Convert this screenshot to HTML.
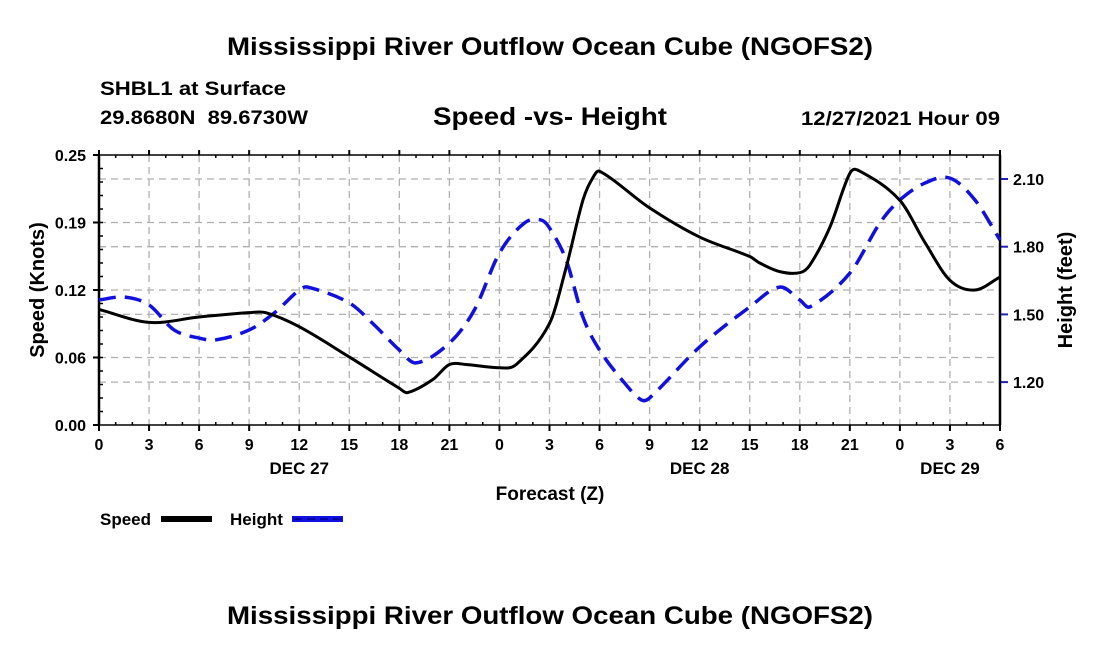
<!DOCTYPE html>
<html><head><meta charset="utf-8"><style>
html,body{margin:0;padding:0;background:#fff;}
svg{display:block;font-family:"Liberation Sans",Arial,sans-serif;font-weight:bold;}
</style></head><body>
<svg id="chart" width="1100" height="650" viewBox="0 0 1100 650" xmlns="http://www.w3.org/2000/svg">
<text x="550" y="55" text-anchor="middle" font-size="25" textLength="646" lengthAdjust="spacingAndGlyphs">Mississippi River Outflow Ocean Cube (NGOFS2)</text>
<text x="100" y="95" font-size="19" textLength="186" lengthAdjust="spacingAndGlyphs">SHBL1 at Surface</text>
<text x="100" y="124" font-size="19" textLength="208" lengthAdjust="spacingAndGlyphs" xml:space="preserve">29.8680N  89.6730W</text>
<text x="550" y="125" text-anchor="middle" font-size="25" textLength="234" lengthAdjust="spacingAndGlyphs">Speed -vs- Height</text>
<text x="1000" y="125" text-anchor="end" font-size="19" textLength="199" lengthAdjust="spacingAndGlyphs">12/27/2021 Hour 09</text>
<g id="grid"></g>
<g id="axes"></g>
<g id="series"></g>
<text transform="translate(44,290) rotate(-90)" text-anchor="middle" font-size="20">Speed (Knots)</text>
<text transform="translate(1072,290) rotate(-90)" text-anchor="middle" font-size="20">Height (feet)</text>
<text x="550" y="500" text-anchor="middle" font-size="19">Forecast (Z)</text>
<g>
<text x="100" y="525" font-size="17">Speed</text>
<rect x="161" y="516" width="51" height="6" fill="#000"/>
<text x="230" y="525" font-size="17">Height</text>
<rect x="292" y="516" width="51" height="6" fill="#1010e0"/>
<line x1="294" y1="519" x2="342" y2="519" stroke="#0000a0" stroke-width="2" stroke-dasharray="8,5"/>
</g>
<text x="550" y="624" text-anchor="middle" font-size="25" textLength="646" lengthAdjust="spacingAndGlyphs">Mississippi River Outflow Ocean Cube (NGOFS2)</text>
</svg>
<script>
const speedHours=[0,3,6,9,10,12,15,18,18.5,20,21,22,24,25,27,28,29,29.6,30,33,36,39,39.6,40.8,42,42.6,43.8,45,45.6,48,49.5,51,52.5,54];
const speedValues=[.107,.095,.100,.104,.104,.091,.063,.034,.030,.042,.056,.056,.053,.056,.094,.146,.208,.229,.235,.201,.174,.156,.150,.142,.141,.148,.183,.233,.235,.208,.169,.134,.125,.137];
const heightHours=[0,1.5,3,4.5,6,7,9,10.5,12,12.5,15,16.5,18,19,21,22.5,24,25.5,26.5,27,28,29,30,31.5,32.5,33,36,39,40.8,42,42.6,45,46.8,48,49.5,51,52.5,54];
const heightValues=[1.564,1.577,1.542,1.431,1.395,1.387,1.431,1.506,1.608,1.621,1.551,1.453,1.342,1.285,1.373,1.520,1.772,1.905,1.918,1.883,1.741,1.489,1.342,1.196,1.121,1.130,1.356,1.533,1.621,1.564,1.533,1.683,1.905,2.007,2.082,2.104,2.007,1.830];
const xTickLabels=["0","3","6","9","12","15","18","21","0","3","6","9","12","15","18","21","0","3","6"];
const speedTickLabels=["0.00","0.06","0.12","0.19","0.25"];
const heightTickLabels=["1.20","1.50","1.80","2.10"];
const dayLabels=["DEC 27","DEC 28","DEC 29"];
const dayHours=[12,36,51];

const L=99,R=1000,T=155,B=425;
const xs=h=>L+(R-L)*h/54;
const ys=s=>B-(B-T)*s/0.25;
const yh=h=>179+(2.10-h)/0.3*67.7;
const NS="http://www.w3.org/2000/svg";
function mk(tag,attrs,parent){const e=document.createElementNS(NS,tag);for(const k in attrs)e.setAttribute(k,attrs[k]);parent.appendChild(e);return e;}
const grid=document.getElementById('grid'),axes=document.getElementById('axes'),series=document.getElementById('series');
const gs={stroke:"#b0b0b0","stroke-width":1.3,"stroke-dasharray":"7,5"};
for(let i=1;i<18;i++){const x=xs(i*3);const g=mk('line',Object.assign({x1:x,x2:x,y1:T,y2:B},gs),grid);

}
speedTickLabels.forEach((lab,i)=>{const y=ys(i*0.0625);
if(i>0&&i<4){const g=mk('line',Object.assign({x1:L,x2:R,y1:y,y2:y},gs),grid);

}
mk('line',{x1:L-6,x2:L,y1:y,y2:y,stroke:"#000","stroke-width":2},axes);
const t=mk('text',{x:86,y:y+6,"text-anchor":"end","font-size":16},axes);t.textContent=lab;

});
heightTickLabels.forEach((lab,i)=>{const v=parseFloat(lab);const y=yh(v);
const g=mk('line',Object.assign({x1:L,x2:R,y1:y,y2:y},gs),grid);


mk('line',{x1:R,x2:R+8,y1:y,y2:y,stroke:"#2020c0","stroke-width":2},axes);
const t=mk('text',{x:1013,y:y+6,"font-size":16},axes);t.textContent=lab;

});
for(let h=0;h<=54;h++){const x=xs(h);const big=h%3==0;
mk('line',{x1:x,x2:x,y1:B-(big?0:3),y2:B+(big?6:0),stroke:"#000","stroke-width":big?2:1.5},axes);
mk('line',{x1:x,x2:x,y1:T+(big?0:3),y2:T-(big?5:0),stroke:"#000","stroke-width":big?2:1.5},axes);}
for(let i=1;i<20;i++){const y=ys(i*0.0125);mk('line',{x1:L,x2:L+4,y1:y,y2:y,stroke:"#000","stroke-width":1.5},axes);}
const fr=mk('rect',{x:L,y:T,width:R-L,height:B-T,fill:"none",stroke:"#000","stroke-width":1.5},axes);


mk('line',{x1:L,x2:L,y1:T,y2:B,stroke:"#000","stroke-width":2.5},axes);
mk('line',{x1:R,x2:R,y1:T,y2:B,stroke:"#000","stroke-width":2.5},axes);
xTickLabels.forEach((lab,i)=>{const t=mk('text',{x:xs(i*3),y:450,"text-anchor":"middle","font-size":16},axes);t.textContent=lab;

});
dayLabels.forEach((lab,i)=>{const t=mk('text',{x:xs(dayHours[i]),y:474,"text-anchor":"middle","font-size":17},axes);t.textContent=lab;

});
function path(px,py){const n=px.length,m=[];
for(let i=0;i<n;i++){const a=Math.max(0,i-1),b=Math.min(n-1,i+1);m.push((py[b]-py[a])/(px[b]-px[a]));}
let d=`M${px[0]},${py[0]}`;
for(let i=0;i<n-1;i++){const dx=(px[i+1]-px[i])/3;
d+=` C${px[i]+dx},${py[i]+m[i]*dx} ${px[i+1]-dx},${py[i+1]-m[i+1]*dx} ${px[i+1]},${py[i+1]}`;}return d;}
const hp=mk('path',{d:path(heightHours.map(xs),heightValues.map(yh)),fill:"none",stroke:"#1010e0","stroke-width":3.5,"stroke-dasharray":"17,9"},series);


const sp=mk('path',{d:path(speedHours.map(xs),speedValues.map(ys)),fill:"none",stroke:"#000","stroke-width":3,"stroke-linejoin":"round"},series);


</script>
</body></html>
